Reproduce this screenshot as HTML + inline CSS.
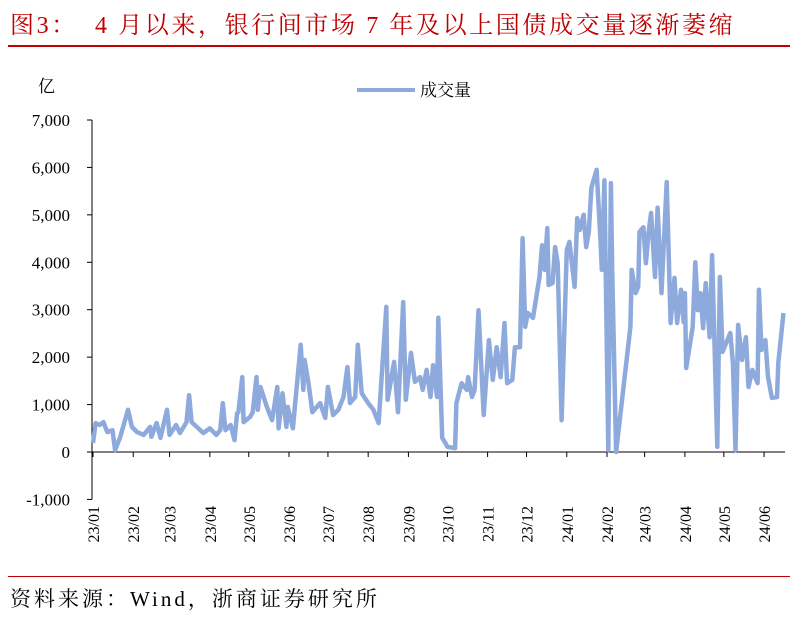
<!DOCTYPE html>
<html><head><meta charset="utf-8">
<style>
html,body{margin:0;padding:0;background:#fff;}
body{width:797px;height:623px;position:relative;overflow:hidden;font-family:"Liberation Serif","Noto Serif CJK SC",serif;}
.title{position:absolute;left:10px;top:5px;font-size:24px;letter-spacing:2.6px;color:#c00000;white-space:pre;}
.rule{position:absolute;left:8px;width:782px;height:2px;background:#c00000;}
.src{position:absolute;left:10px;top:583px;font-size:21px;letter-spacing:3px;color:#000;}
svg{position:absolute;left:0;top:0;}
</style></head><body>
<div class="title">图3：  4 月以来，银行间市场 7 年及以上国债成交量逐渐萎缩</div>
<div class="rule" style="top:45px"></div>
<div class="rule" style="top:576px;height:1px"></div>
<div class="src">资料来源：Wind，浙商证券研究所</div>
<svg id="chart" width="797" height="623"></svg>
<script>
const days=[0,2,5,8,11,15,17,21,27,30,34,39,44,45,49,52,57,59,64,67,72,74,76,80,85,90,95,98,100,102,106,109,111,112,115,116,121,123,126,127,129,134,138,142,143,146,149,150,154,156,160,162,163,166,169,175,179,181,185,189,193,196,198,202,204,207,212,216,220,226,227,232,235,239,241,245,248,252,254,257,260,262,265,266,269,271,273,279,280,284,288,289,292,294,297,301,305,308,311,314,317,319,323,325,329,331,333,335,339,344,346,348,350,351,354,356,358,361,365,367,371,373,375,378,380,382,384,388,391,392,394,397,399,400,403,414,415,418,420,421,424,426,428,430,433,435,438,442,445,448,450,453,455,456,457,462,464,466,468,470,472,475,477,481,483,485,491,493,495,497,500,503,505,508,512,513,515,518,520,523,527,528,532];
const values=[190,610,570,630,420,460,40,320,890,530,420,360,530,320,610,300,890,360,570,400,630,1200,630,530,400,500,360,460,1030,460,570,250,820,840,1580,630,740,840,1580,890,1370,950,670,1370,500,1240,530,950,500,1100,2260,1310,1940,1450,840,1030,720,1370,780,890,1160,1790,1030,1160,2260,1240,1030,890,610,3060,1100,1900,840,3160,1100,2090,1480,1580,1310,1730,1160,1830,1160,2830,300,210,110,80,1030,1450,1310,1580,1160,1310,2990,780,2360,1520,2210,1580,2720,1450,1520,2210,2210,4510,2640,2930,2830,3690,4360,3840,4720,3520,3560,4320,3980,670,4260,4430,3480,4930,4680,5000,4320,4640,5570,5950,4470,3840,5730,40,5670,3840,0,2640,3840,3350,3480,4640,4740,3980,4620,5040,3690,5150,3350,5690,2720,3670,2720,3420,2740,3350,1770,2640,4000,2990,3350,2610,3560,2420,4150,110,3690,2110,2510,1880,40,2680,1940,2420,1370,1730,1450,3420,2150,2360,1580,1140,1160,1880,2930,1940];
const monthLabels=["23/01","23/02","23/03","23/04","23/05","23/06","23/07","23/08","23/09","23/10","23/11","23/12","24/01","24/02","24/03","24/04","24/05","24/06"];
const monthStarts=[0,31,59,90,120,151,181,212,243,273,304,334,365,396,425,456,486,517];
const yTicks=[-1000,0,1000,2000,3000,4000,5000,6000,7000];
const yTickLabels=["-1,000","0","1,000","2,000","3,000","4,000","5,000","6,000","7,000"];

const svg=document.getElementById('chart');
const NS='http://www.w3.org/2000/svg';
const X0=93,DX=1.298,Y0=452,DY=0.04743;
function xs(d){return X0+d*DX;}
function ys(v){return Y0-v*DY;}
function mk(t,a){const e=document.createElementNS(NS,t);for(const k in a)e.setAttribute(k,a[k]);svg.appendChild(e);return e;}

let ax=mk('line',{x1:92,y1:ys(7000),x2:92,y2:ys(-1000),stroke:'#000','stroke-width':1});


yTicks.forEach((v,i)=>{
  const t=mk('line',{x1:87,y1:ys(v),x2:92,y2:ys(v),stroke:'#000','stroke-width':1});
  
  
  const l=mk('text',{x:70,y:ys(v)+6,'text-anchor':'end','font-size':17,fill:'#000'});
  l.textContent=yTickLabels[i];
  
  
});
let yu=mk('text',{x:38,y:92,'font-size':17,fill:'#000'});
yu.textContent='亿';



let xa=mk('line',{x1:92,y1:ys(0),x2:785,y2:ys(0),stroke:'#000','stroke-width':1});


monthStarts.forEach((d,i)=>{
  const x=xs(d);
  const t=mk('line',{x1:x,y1:ys(0),x2:x,y2:ys(0)+5,stroke:'#000','stroke-width':1});
  
  
  const l=mk('text',{x:0,y:0,'text-anchor':'end','font-size':16,fill:'#000',transform:`translate(${x+6},506) rotate(-90)`});
  l.textContent=monthLabels[i];
  
  
});

let p='';
days.forEach((d,i)=>{p+=(i?'L':'M')+xs(d).toFixed(1)+','+ys(values[i]).toFixed(1);});
let line=mk('path',{d:p,fill:'none',stroke:'#8eaadc','stroke-width':4.5,'stroke-linejoin':'round'});



let lg=mk('line',{x1:357,y1:90,x2:415,y2:90,stroke:'#8eaadc','stroke-width':4});


let lt=mk('text',{x:420,y:96,'font-size':17,fill:'#000'});
lt.textContent='成交量';


</script>
</body></html>
